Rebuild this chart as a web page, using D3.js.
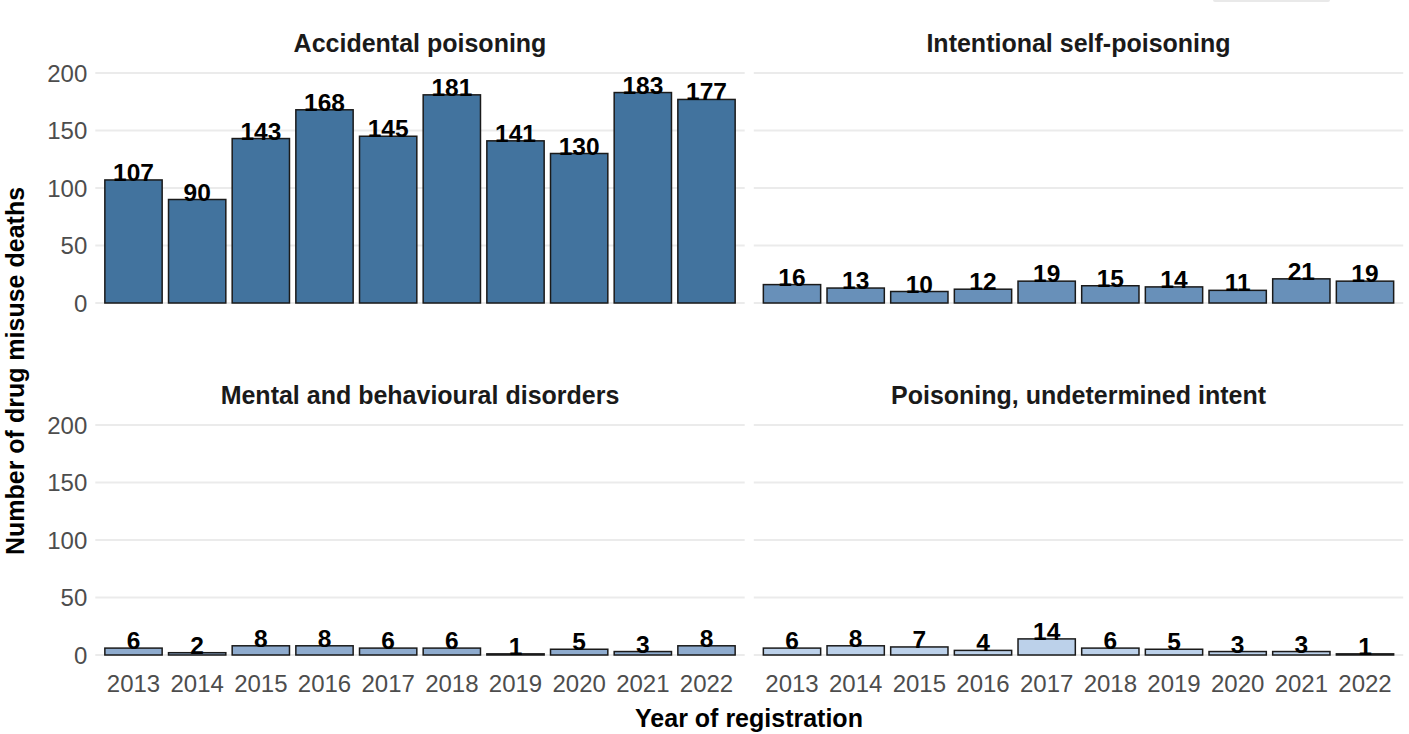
<!DOCTYPE html>
<html><head><meta charset="utf-8">
<script src="https://cdn.jsdelivr.net/npm/d3@7"></script>
<style>
body{margin:0;background:#fff;}
text{font-family:"Liberation Sans",Arial,sans-serif;}
</style></head>
<body><svg id="c" width="1409" height="734"></svg>
<script>
const years = ["2013","2014","2015","2016","2017","2018","2019","2020","2021","2022"];
const panelTitles = ["Accidental poisoning","Intentional self-poisoning","Mental and behavioural disorders","Poisoning, undetermined intent"];
const accidental = [107,90,143,168,145,181,141,130,183,177];
const intentional = [16,13,10,12,19,15,14,11,21,19];
const mental = [6,2,8,8,6,6,1,5,3,8];
const undetermined = [6,8,7,4,14,6,5,3,3,1];
const yTicks = [0,50,100,150,200];
const colors = ["#42739e","#6890b9","#8eabce","#bcd1ea"];
const seriesList = [accidental,intentional,mental,undetermined];

const svg = d3.select("#c");
// cut-off legend box at top
svg.append("rect").attr("x",1213).attr("y",-4).attr("width",117).attr("height",6).attr("fill","#e9e9e9").attr("rx",2);

const cols = [[95.3,744.7],[753.8,1403.2]];
const rows = [[303,73],[655,425]];

seriesList.forEach((vals,i)=>{
  const c = cols[i%2], r = rows[Math.floor(i/2)];
  const x = d3.scaleBand().domain(years).range(c).paddingInner(0.1).paddingOuter(0.15);
  const y = d3.scaleLinear().domain([0,200]).range(r);
  const g = svg.append("g");
  g.selectAll("line.grid").data(yTicks).enter().append("line")
    .attr("x1",c[0]).attr("x2",c[1]).attr("y1",d=>y(d)).attr("y2",d=>y(d))
    .attr("stroke","#ebebeb").attr("stroke-width",2);
  if(i%2===0){
    const ax = d3.axisLeft(y).tickValues(yTicks).tickSize(0).tickPadding(8);
    const a = svg.append("g").attr("transform",`translate(${c[0]},0)`).call(ax);
    a.select(".domain").remove();
    a.selectAll("text").attr("font-size",24).attr("fill","#4d4d4d").attr("font-family","Liberation Sans, Arial, sans-serif").attr("dy","0.35em");
  }
  if(i>=2){
    const ax = d3.axisBottom(x).tickSize(0).tickPadding(20);
    const a = svg.append("g").attr("transform",`translate(0,${r[0]})`).call(ax);
    a.select(".domain").remove();
    a.selectAll("text").attr("font-size",24).attr("fill","#4d4d4d").attr("font-family","Liberation Sans, Arial, sans-serif");
  }
  g.selectAll("rect.bar").data(vals).enter().append("rect")
    .attr("x",(d,j)=>x(years[j])).attr("width",x.bandwidth())
    .attr("y",d=>y(d)).attr("height",d=>y(0)-y(d))
    .attr("fill",colors[i]).attr("stroke","#1a1a1a").attr("stroke-width",1.5);
  g.selectAll("text.val").data(vals).enter().append("text")
    .attr("x",(d,j)=>x(years[j])+x.bandwidth()/2).attr("y",d=>y(d)+1)
    .attr("text-anchor","middle").attr("font-size",24.5).attr("font-weight","bold").attr("fill","#000")
    .text(d=>d);
  svg.append("text").attr("x",(c[0]+c[1])/2).attr("y",r[1]-21)
    .attr("text-anchor","middle").attr("font-size",25).attr("font-weight","bold").attr("fill","#1a1a1a")
    .text(panelTitles[i]);
});

svg.append("text").attr("x",749).attr("y",727).attr("text-anchor","middle")
  .attr("font-size",25).attr("font-weight","bold").attr("fill","#000").text("Year of registration");
svg.append("text").attr("transform","translate(24,371) rotate(-90)").attr("text-anchor","middle")
  .attr("font-size",25).attr("font-weight","bold").attr("fill","#000").text("Number of drug misuse deaths");
</script></body></html>
